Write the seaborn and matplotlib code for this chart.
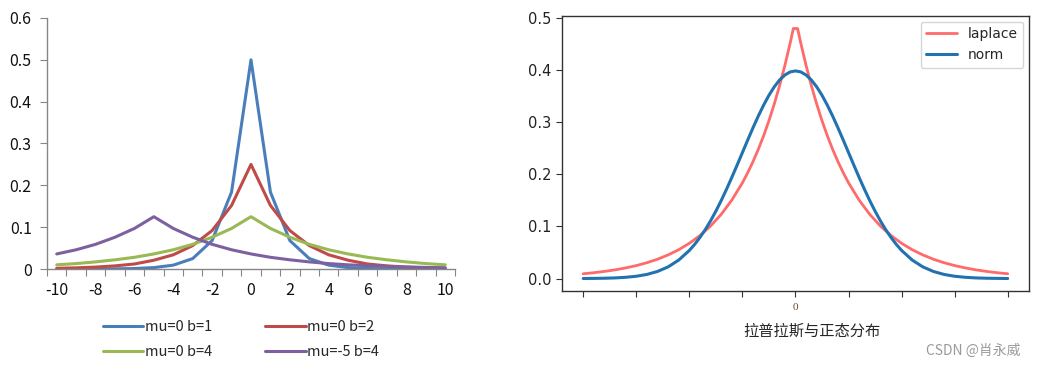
import matplotlib
matplotlib.use("Agg")
import matplotlib.pyplot as plt
import seaborn as sns

# left panel: laplace pdf sampled at integer x (Excel style chart)
x_int = [-10, -9, -8, -7, -6, -5, -4, -3, -2, -1, 0, 1, 2, 3, 4, 5, 6, 7, 8, 9, 10]
b1 = [0.00002, 0.00006, 0.00017, 0.00046, 0.0012, 0.0034, 0.0092, 0.025, 0.068, 0.184, 0.5,
      0.184, 0.068, 0.025, 0.0092, 0.0034, 0.0012, 0.00046, 0.00017, 0.00006, 0.00002]
b2 = [0.0017, 0.0028, 0.0046, 0.0075, 0.012, 0.021, 0.034, 0.056, 0.092, 0.152, 0.25,
      0.152, 0.092, 0.056, 0.034, 0.021, 0.012, 0.0075, 0.0046, 0.0028, 0.0017]
b4 = [0.010, 0.013, 0.017, 0.022, 0.028, 0.036, 0.046, 0.059, 0.076, 0.097, 0.125,
      0.097, 0.076, 0.059, 0.046, 0.036, 0.028, 0.022, 0.017, 0.013, 0.010]
m5b4 = [0.036, 0.046, 0.059, 0.076, 0.097, 0.125, 0.097, 0.076, 0.059, 0.046, 0.036,
        0.028, 0.022, 0.017, 0.013, 0.010, 0.0080, 0.0062, 0.0048, 0.0038, 0.0029]
left_labels = ['mu=0 b=1', 'mu=0 b=2', 'mu=0 b=4', 'mu=-5 b=4']
left_colors = ['#4A7EBB', '#BE4B48', '#98B954', '#7D60A0']

# right panel: laplace vs norm
x_lap = [-4.0, -3.8, -3.6, -3.4, -3.2, -3.0, -2.8, -2.6, -2.4, -2.2, -2.0, -1.8, -1.6, -1.4,
         -1.2, -1.0, -0.9, -0.8, -0.7, -0.6, -0.5, -0.4, -0.3, -0.2, -0.1, -0.04,
         0.04, 0.1, 0.2, 0.3, 0.4, 0.5, 0.6, 0.7, 0.8, 0.9, 1.0, 1.2, 1.4, 1.6, 1.8, 2.0,
         2.2, 2.4, 2.6, 2.8, 3.0, 3.2, 3.4, 3.6, 3.8, 4.0]
y_lap = [0.0092, 0.0112, 0.0137, 0.0167, 0.0204, 0.0249, 0.0304, 0.0371, 0.0454, 0.0554,
         0.0677, 0.0826, 0.1009, 0.1233, 0.1506, 0.1839, 0.2033, 0.2247, 0.2483, 0.2744,
         0.3033, 0.3352, 0.3704, 0.4094, 0.4524, 0.4804,
         0.4804, 0.4524, 0.4094, 0.3704, 0.3352, 0.3033, 0.2744, 0.2483, 0.2247, 0.2033,
         0.1839, 0.1506, 0.1233, 0.1009, 0.0826, 0.0677, 0.0554, 0.0454, 0.0371, 0.0304,
         0.0249, 0.0204, 0.0167, 0.0137, 0.0112, 0.0092]
x_norm = [-4.0, -3.8, -3.6, -3.4, -3.2, -3.0, -2.8, -2.6, -2.4, -2.2,
          -2.0, -1.9, -1.8, -1.7, -1.6, -1.5, -1.4, -1.3, -1.2, -1.1, -1.0,
          -0.9, -0.8, -0.7, -0.6, -0.5, -0.4, -0.3, -0.2, -0.1, 0.0,
          0.1, 0.2, 0.3, 0.4, 0.5, 0.6, 0.7, 0.8, 0.9, 1.0,
          1.1, 1.2, 1.3, 1.4, 1.5, 1.6, 1.7, 1.8, 1.9, 2.0,
          2.2, 2.4, 2.6, 2.8, 3.0, 3.2, 3.4, 3.6, 3.8, 4.0]
y_norm = [0.0001, 0.0003, 0.0006, 0.0012, 0.0024, 0.0044, 0.0079, 0.0136, 0.0224, 0.0355,
          0.0540, 0.0656, 0.0790, 0.0940, 0.1109, 0.1295, 0.1497, 0.1714, 0.1942, 0.2179,
          0.2420, 0.2661, 0.2897, 0.3123, 0.3332, 0.3521, 0.3683, 0.3814, 0.3910, 0.3970,
          0.3989,
          0.3970, 0.3910, 0.3814, 0.3683, 0.3521, 0.3332, 0.3123, 0.2897, 0.2661, 0.2420,
          0.2179, 0.1942, 0.1714, 0.1497, 0.1295, 0.1109, 0.0940, 0.0790, 0.0656, 0.0540,
          0.0355, 0.0224, 0.0136, 0.0079, 0.0044, 0.0024, 0.0012, 0.0006, 0.0003, 0.0001]
x_ticks_r = [-4, -3, -2, -1, 0, 1, 2, 3, 4]

sns.set_style("white")
plt.rcParams['font.family'] = ['Noto Sans CJK SC', 'DejaVu Sans']

fig = plt.figure(figsize=(10.38, 3.67), dpi=100)

# ---- left
ax1 = fig.add_axes([0.0453, 0.267, 0.393, 0.684])
for ys, lab, c in zip([b1, b2, b4, m5b4], left_labels, left_colors):
    sns.lineplot(x=x_int, y=ys, ax=ax1, color=c, linewidth=2.2, label=lab)
ax1.set_xlim(-10.5, 10.5)
ax1.set_ylim(0, 0.6)
ax1.set_yticks([0, 0.1, 0.2, 0.3, 0.4, 0.5, 0.6])
ax1.set_yticklabels(['0', '0.1', '0.2', '0.3', '0.4', '0.5', '0.6'])
ax1.set_xticks([v - 0.5 for v in x_int] + [10.5])
ax1.set_xticks(x_int[::2], minor=True)
ax1.set_xticklabels([])
ax1.set_xticklabels([str(v) for v in x_int[::2]], minor=True)
ax1.tick_params(axis='x', which='major', length=5, direction='out', color='#868686', bottom=True)
ax1.tick_params(axis='x', which='minor', length=0, pad=9, labelsize=11.5, labelcolor='#111111', bottom=True)
ax1.tick_params(axis='y', length=5, direction='out', color='#868686', left=True,
                labelsize=11.5, labelcolor='#111111', pad=6)
for s in ['top', 'right']:
    ax1.spines[s].set_visible(False)
for s in ['left', 'bottom']:
    ax1.spines[s].set_color('#868686')
    ax1.spines[s].set_linewidth(1)
ax1.set_xlabel('')
ax1.set_ylabel('')
h, l = ax1.get_legend_handles_labels()
ax1.get_legend().remove()
# ncol=2 fills by column, so reorder to get the row layout of the original
order = [0, 2, 1, 3]
fig.legend([h[i] for i in order], [l[i] for i in order], ncol=2, loc='center',
           bbox_to_anchor=(0.232, 0.074), frameon=False,
           fontsize=10.5, handlelength=2.8, handletextpad=0.1, columnspacing=3.6,
           labelspacing=0.75)

# ---- right
ax2 = fig.add_axes([0.5414, 0.2071, 0.4499, 0.7493])
sns.lineplot(x=x_lap, y=y_lap, ax=ax2, color='#FF6A6A', linewidth=2, label='laplace')
sns.lineplot(x=x_norm, y=y_norm, ax=ax2, color='#2272B0', linewidth=2.2, label='norm')
ax2.margins(x=0.05, y=0.05)
ax2.set_xticks(x_ticks_r)
ax2.set_xticklabels(['' if v != 0 else '0' for v in x_ticks_r], family='Liberation Serif',
                    fontsize=8, color='#6b4a2a')
ax2.set_yticks([0.0, 0.1, 0.2, 0.3, 0.4, 0.5])
ax2.set_yticklabels(['0.0', '0.1', '0.2', '0.3', '0.4', '0.5'], fontsize=10.5,
                    color='#222222', family='DejaVu Sans')
ax2.tick_params(axis='both', length=4, direction='out', color='#333333', left=True, bottom=True)
ax2.tick_params(axis='x', pad=5)
for s in ax2.spines.values():
    s.set_color('#333333')
    s.set_linewidth(1)
ax2.set_xlabel('拉普拉斯与正态分布', fontsize=11, labelpad=6)
ax2.xaxis.set_label_coords(0.535, -0.115)
ax2.set_ylabel('')
ax2.legend(loc='upper right', frameon=True, handlelength=2.2,
           borderaxespad=0.4, edgecolor='#cccccc',
           prop={'family': 'DejaVu Sans', 'size': 10})

fig.text(0.983, 0.045, 'CSDN @肖永威', ha='right', va='center', fontsize=10, color='#9a9a9a')

fig.savefig('out.png', dpi=100)
